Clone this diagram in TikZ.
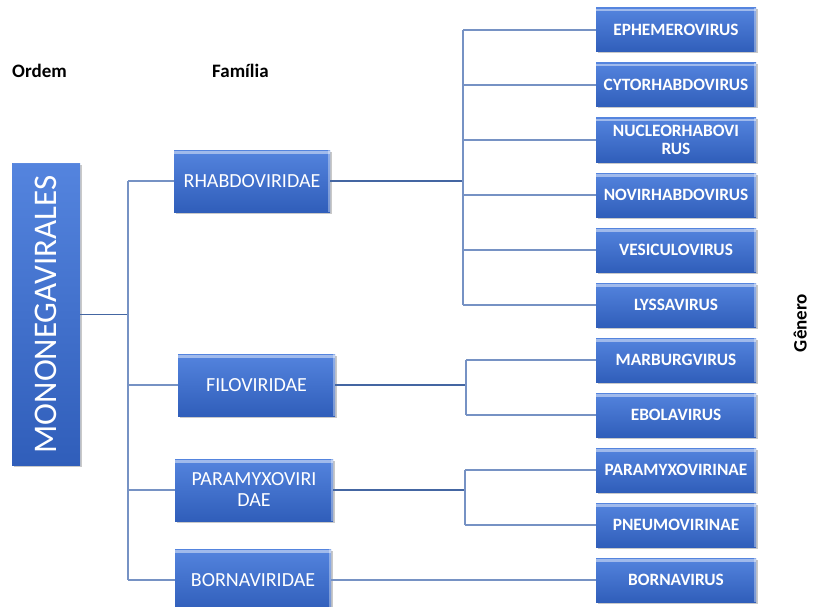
\documentclass[tikz,border=0pt]{standalone}
\usepackage{fontspec}
\setmainfont{Carlito}
\usetikzlibrary{shadows}
\definecolor{boxtop}{RGB}{84,132,222}
\definecolor{boxbot}{RGB}{48,94,186}
\definecolor{linec}{RGB}{68,102,162}
\definecolor{linel}{RGB}{118,146,196}
\tikzset{
  vbox/.style={draw=none, top color=boxtop, bottom color=boxbot, text=white, align=center, inner sep=1pt,
    drop shadow={shadow xshift=1.5pt, shadow yshift=-1.5pt, opacity=0.3, fill=black!70},
    path picture={\fill[white,opacity=0.45] ([yshift=-1pt]path picture bounding box.north west) rectangle ([yshift=-3.5pt]path picture bounding box.north east);
      \fill[white,opacity=0.35] ([xshift=-2pt]path picture bounding box.north east) rectangle (path picture bounding box.south east);}},
  fam/.style={vbox, minimum width=156pt, minimum height=62pt, font=\fontsize{20}{21}\selectfont},
  gen/.style={vbox, minimum width=160pt, minimum height=44pt, font=\bfseries\fontsize{17.3}{17.8}\selectfont},
  lbl/.style={font=\bfseries\fontsize{19}{20}\selectfont, inner sep=0pt},
  conn/.style={draw=linec, line width=1.4pt},
  branch/.style={draw=linel, line width=1.2pt}
}
\begin{document}
\begin{tikzpicture}[x=1pt,y=-1pt]
\useasboundingbox (0,0) rectangle (813,607);
% labels
\node[lbl, anchor=base west] (ordem) at (12,78) {Ordem};
\node[lbl, anchor=base west] (familia) at (212,78) {Família};
\node[lbl, anchor=south, rotate=90] (genero) at (807,323) {Gênero};
% order
\node[vbox, minimum width=302pt, minimum height=68pt, rotate=90, font=\fontsize{33}{34}\selectfont] (mono) at (46,314.5) {MONONEGAVIRALES};
% families
\node[fam] (rhab) at (252,181) {RHABDOVIRIDAE};
\node[fam, minimum width=157pt] (filo) at (256.5,385) {FILOVIRIDAE};
\node[fam, minimum width=158pt] (para) at (254,490) {PARAMYXOVIRI\\DAE};
\node[fam] (born) at (253,580) {BORNAVIRIDAE};
% genera
\node[gen] (g1) at (676,30) {EPHEMEROVIRUS};
\node[gen] (g2) at (676,85) {CYTORHABDOVIRUS};
\node[gen] (g3) at (676,140) {NUCLEORHABOVI\\RUS};
\node[gen] (g4) at (676,195) {NOVIRHABDOVIRUS};
\node[gen] (g5) at (676,250) {VESICULOVIRUS};
\node[gen] (g6) at (676,305) {LYSSAVIRUS};
\node[gen] (g7) at (676,360) {MARBURGVIRUS};
\node[gen] (g8) at (676,415) {EBOLAVIRUS};
\node[gen] (g9) at (676,470) {PARAMYXOVIRINAE};
\node[gen] (g10) at (676,525) {PNEUMOVIRINAE};
\node[gen] (g11) at (676,580) {BORNAVIRUS};
% junction coordinates
\coordinate (mv) at (128,0);
\coordinate (rb) at (463,0);
\coordinate (fb) at (466,0);
\coordinate (pb) at (465,0);
% order -> families
\draw[conn] (mono.south) -- (mono.south -| mv);
\draw[branch] (mv |- rhab.west) -- (mv |- born.west);
\foreach \f in {rhab,filo,para,born} \draw[branch] (mv |- \f.west) -- (\f.west);
% rhabdo
\draw[conn] (rhab.east) -- (rhab.east -| rb);
\draw[branch] (rb |- g1.west) -- (rb |- g6.west);
\foreach \g in {g1,g2,g3,g4,g5,g6} \draw[branch] (rb |- \g.west) -- (\g.west);
% filo
\draw[conn] (filo.east) -- (filo.east -| fb);
\draw[branch] (fb |- g7.west) -- (fb |- g8.west);
\foreach \g in {g7,g8} \draw[branch] (fb |- \g.west) -- (\g.west);
% para
\draw[conn] (para.east) -- (para.east -| pb);
\draw[branch] (pb |- g9.west) -- (pb |- g10.west);
\foreach \g in {g9,g10} \draw[branch] (pb |- \g.west) -- (\g.west);
% borna
\draw[branch] (born.east) -- (g11.west);
\end{tikzpicture}
\end{document}
